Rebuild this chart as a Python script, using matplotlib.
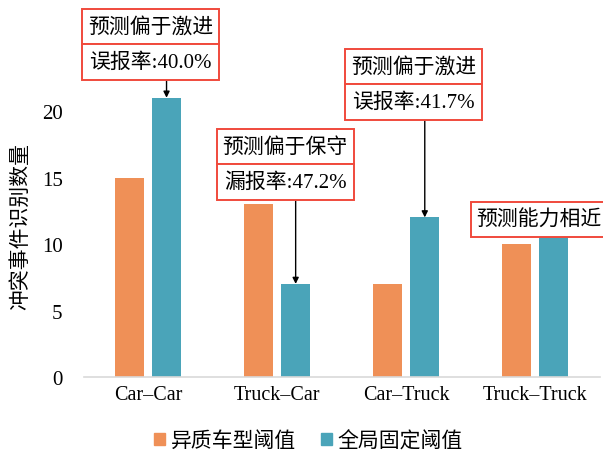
import matplotlib.pyplot as plt
import numpy as np
from matplotlib.patches import Rectangle, Patch

# conflict counts per vehicle pairing
categories = ['Car–Car', 'Truck–Car', 'Car–Truck', 'Truck–Truck']
hetero_thresh = [15, 13, 7, 10]
fixed_thresh = [21, 7, 12, 11]
series_names = ['异质车型阈值', '全局固定阈值']
yticks = [0, 5, 10, 15, 20]

# callout text: (category index, lines)
callouts = [
    (0, ['预测偏于激进', '误报率:40.0%']),
    (1, ['预测偏于保守', '漏报率:47.2%']),
    (2, ['预测偏于激进', '误报率:41.7%']),
    (3, ['预测能力相近']),
]

ORANGE = '#EF9057'
TEAL = '#4AA4B9'
RED = '#F04A3C'
MIXED = ['Liberation Serif', 'Noto Sans CJK SC']
CJK = ['Noto Sans CJK SC', 'DejaVu Sans']

fig = plt.figure(figsize=(6.03, 4.52), dpi=100)
ax = fig.add_axes([0.1385, 0.1637, 0.8565, 0.7356])

x = np.arange(len(categories))
w = 0.225
off = 0.143
ax.bar(x - off, hetero_thresh, w, color=ORANGE, zorder=2)
ax.bar(x + off, fixed_thresh, w, color=TEAL, zorder=2)

ax.set_xlim(-0.5, 3.5)
ax.set_ylim(0, 25)
ax.set_yticks(yticks)
ax.set_xticks(x)
ax.set_xticklabels(categories, fontfamily='Liberation Serif', fontsize=14.5)
for lab in ax.get_yticklabels():
    lab.set_fontfamily('Liberation Serif')
    lab.set_fontsize(15)
ax.tick_params(axis='y', length=0, pad=15)
ax.tick_params(axis='x', length=0, pad=6)
for s in ['top', 'right', 'left']:
    ax.spines[s].set_visible(False)
ax.spines['bottom'].set_color('#d9d9d9')
ax.spines['bottom'].set_linewidth(1.2)

fig.text(0.033, 0.5, '冲突事件识别数量', rotation=90, ha='center', va='center',
         fontsize=15, family=CJK)

# stacked red-edged label boxes with arrows to the fixed-threshold bar
box_w = 1.06
row_h = 2.66
box_pos = {0: (0.019, 27.67), 1: (1.062, 18.65), 2: (2.058, 24.66), 3: (3.03, 13.16)}
for idx, lines in callouts:
    cx, top = box_pos[idx]
    for k, line in enumerate(lines):
        y0 = top - (k + 1) * row_h
        ax.add_patch(Rectangle((cx - box_w / 2, y0), box_w, row_h, facecolor='white',
                               edgecolor=RED, lw=1.4, clip_on=False, zorder=5))
        ax.text(cx, y0 + row_h / 2, line, ha='center', va='center', fontsize=15,
                family=MIXED, zorder=6, clip_on=False)
    if len(lines) > 1:
        bottom = top - len(lines) * row_h
        ax.annotate('', xy=(idx + off, fixed_thresh[idx]), xytext=(idx + off, bottom),
                    arrowprops=dict(arrowstyle='-|>', color='black', lw=1.0,
                                    mutation_scale=9, shrinkA=0, shrinkB=0),
                    annotation_clip=False, zorder=4)

handles = [Patch(color=ORANGE), Patch(color=TEAL)]
leg = fig.legend(handles, series_names, loc='center', bbox_to_anchor=(0.511, 0.024),
                 ncol=2, frameon=False, handlelength=0.55, handleheight=0.55,
                 handletextpad=0.25, columnspacing=1.2, prop={'family': CJK, 'size': 15})

fig.savefig('out.png', dpi=100)
